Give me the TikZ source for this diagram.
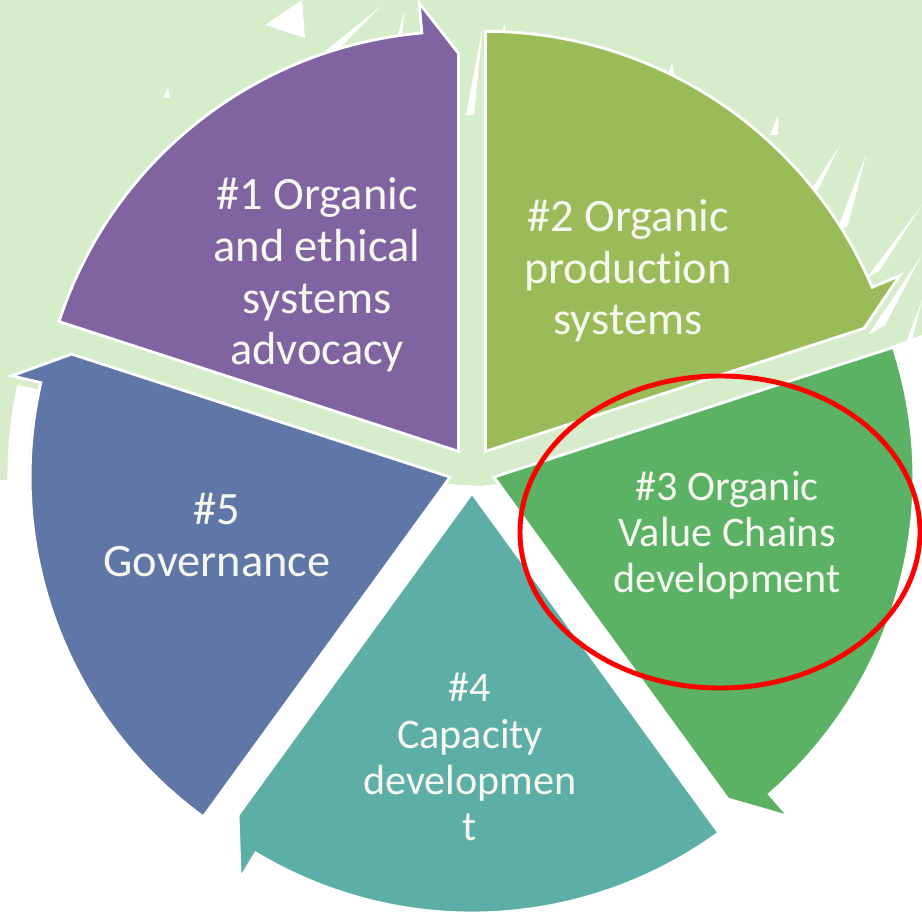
\documentclass[tikz,border=0pt]{standalone}
\usepackage{fontspec}
\setmainfont{Carlito}[Ligatures=NoCommon]
\definecolor{bggreen}{RGB}{214,236,203}
\definecolor{segpurple}{RGB}{128,100,162}
\definecolor{seglime}{RGB}{155,187,89}
\definecolor{seggreen}{RGB}{92,178,100}
\definecolor{segteal}{RGB}{92,174,166}
\definecolor{segblue}{RGB}{95,118,167}
\definecolor{labeltext}{RGB}{246,248,240}
\newcommand{\cyclepiece}[3]{%
  \path[fill=#3, draw=white, line width=0.8pt, shift={(472,446)}, shift={({(#1+#2)/2}:23)}]
    (0,0) -- (#1:420) arc[start angle=#1, end angle=#2+5, radius=420]
    -- (#2+5:450) -- (#2:398) -- cycle;}

\begin{document}
\begin{tikzpicture}[x=0.01cm, y=0.01cm,
  seglabel/.style={text=labeltext, align=center, font=\fontsize{13.2}{14.7}\selectfont},
  smalllabel/.style={seglabel, font=\fontsize{12}{13.1}\selectfont}]
  \useasboundingbox (0,0) rectangle (922,916);
  \fill[white] (0,0) rectangle (922,916);
  \fill[bggreen] (0,916) -- (922,916) -- (922,581) -- (700,500) -- (560,440)
    -- (480,430) -- (250,445) -- (0,436) -- cycle;
  \begin{scope}[shift={(0,916)}, yscale=-1]
    \foreach \ax/\ay/\bx/\by/\tx/\ty in {265/25/305/38/302/0, 323/53/336/52/381/6,
      394/50/401/50/404/12, 163/98/170/98/168/88, 466/115/474/115/483/25,
      500/40/506/40/505/22, 668/75/674/75/672/62, 770/135/778/135/778/115,
      808/195/818/190/840/145, 835/235/848/225/866/155, 865/280/880/270/922/205,
      868/335/885/325/922/255, 905/345/912/340/922/300}
      \fill[white] (\ax,\ay) -- (\bx,\by) -- (\tx,\ty) -- cycle;
  \end{scope}
  \draw[white, line width=6pt] (450,439) ++(168:432) arc[start angle=168, end angle=190, radius=432];

  \cyclepiece{162}{90}{segpurple}
  \cyclepiece{90}{18}{seglime}
  \cyclepiece{18}{-54}{seggreen}
  \cyclepiece{-54}{-126}{segteal}
  \cyclepiece{234}{162}{segblue}

  \node[seglabel] (advocacy) at (317,641) {\#1 Organic\\and ethical\\systems\\advocacy};
  \node[seglabel] (production) at (628,645) {\#2 Organic\\production\\systems};
  \node[smalllabel] (valuechains) at (727,381) {\#3 Organic\\Value Chains\\development};
  \node[smalllabel] (capacity) at (470,159) {\#4\\Capacity\\developmen\\t};
  \node[seglabel] (governance) at (217,381) {\#5\\Governance};

  \draw[red, line width=1.4pt] (720,384) ellipse [x radius=200, y radius=156];
\end{tikzpicture}
\end{document}
